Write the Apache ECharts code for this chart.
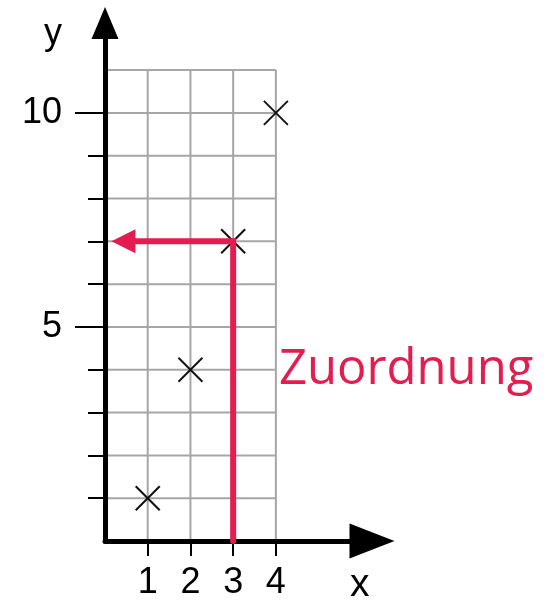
<!DOCTYPE html>
<html>
<head>
<meta charset="utf-8">
<script src="https://cdn.jsdelivr.net/npm/echarts@6/dist/echarts.min.js"></script>
<style>
  html, body { margin: 0; padding: 0; background: #fff; }
  #chart { width: 546px; height: 602px; }
</style>
</head>
<body>
<div id="chart"></div>
<script>
// data
const xValues = [1, 2, 3, 4];
const yValues = [1, 4, 7, 10];
const xTicks = [1, 2, 3, 4];
const yMinorTicks = [1, 2, 3, 4, 6, 7, 8, 9];
const yMajorTicks = [5, 10];
const gridX = [0, 1, 2, 3, 4];
const gridY = [1, 2, 3, 4, 5, 6, 7, 8, 9, 10, 11];
// Zuordnung: from x=3 up to the point, then over to the y axis
const mappingPath = [[3, 0], [3, 7], [0.15, 7]];

const RED = "#e31d50";
const FONT = "Liberation Sans, Arial, sans-serif";

var chartDom = document.getElementById("chart");
var myChart = echarts.init(chartDom);

// grid lines as line items [x1, y1, x2, y2]
let gridLines = [];
gridX.forEach((x) => gridLines.push([x, 0, x, 11]));
gridY.forEach((y) => gridLines.push([0, y, 4, y]));

let option = {
  animation: false,
  grid: {
    left: 105,
    right: 174,
    top: 23,
    bottom: 61,
    outerBoundsMode: "none",
  },
  xAxis: {
    type: "value",
    min: 0,
    max: 6.25,
    z: 3,
    axisLine: {
      lineStyle: { color: "#000", width: 5 },
      symbol: ["none", "triangle"],
      symbolSize: [35, 45],
    },
    splitLine: { show: false },
    axisTick: {
      customValues: xTicks,
      length: 15,
      lineStyle: { color: "#000", width: 2 },
    },
    axisLabel: {
      customValues: xTicks,
      fontSize: 36,
      color: "#000",
      margin: 24,
      fontFamily: FONT,
    },
  },
  yAxis: [
    {
      type: "value",
      min: 0,
      max: 12.1,
      z: 3,
      axisLine: {
        lineStyle: { color: "#000", width: 5 },
        symbol: ["none", "triangle"],
        symbolSize: [27, 32],
      },
      splitLine: { show: false },
      axisTick: {
        customValues: yMinorTicks,
        length: 17,
        lineStyle: { color: "#000", width: 2 },
      },
      axisLabel: { show: false },
    },
    {
      type: "value",
      min: 0,
      max: 12.1,
      position: "left",
      z: 3,
      axisLine: { show: false },
      splitLine: { show: false },
      axisTick: {
        show: true,
        customValues: yMajorTicks,
        length: 30,
        lineStyle: { color: "#000", width: 2 },
      },
      axisLabel: {
        customValues: yMajorTicks,
        fontSize: 36,
        color: "#000",
        margin: 43,
        fontFamily: FONT,
      },
    },
  ],
  graphic: [
    {
      type: "text",
      left: 44,
      top: 16,
      style: { text: "y", font: "36px " + FONT, fill: "#000" },
    },
    {
      type: "text",
      left: 350,
      top: 566,
      style: { text: "x", font: "39px " + FONT, fill: "#000" },
    },
    {
      type: "text",
      left: 279,
      top: 346,
      style: { text: "Zuordnung", font: "49px 'Open Sans', sans-serif", fill: RED },
    },
  ],
  series: [
    {
      // grey grid
      type: "custom",
      z: 1,
      encode: { x: [0, 2], y: [1, 3] },
      data: gridLines,
      renderItem: function (params, api) {
        let p1 = api.coord([api.value(0), api.value(1)]);
        let p2 = api.coord([api.value(2), api.value(3)]);
        return {
          type: "line",
          shape: { x1: p1[0], y1: p1[1], x2: p2[0], y2: p2[1] },
          style: { stroke: "#a6a6a6", lineWidth: 2 },
        };
      },
    },
    {
      // crosses
      type: "custom",
      z: 4,
      data: xValues.map((x, i) => [x, yValues[i]]),
      renderItem: function (params, api) {
        let c = api.coord([api.value(0), api.value(1)]);
        let r = 12;
        return {
          type: "group",
          children: [
            {
              type: "line",
              shape: { x1: c[0] - r, y1: c[1] - r, x2: c[0] + r, y2: c[1] + r },
              style: { stroke: "#111", lineWidth: 2 },
            },
            {
              type: "line",
              shape: { x1: c[0] - r, y1: c[1] + r, x2: c[0] + r, y2: c[1] - r },
              style: { stroke: "#111", lineWidth: 2 },
            },
          ],
        };
      },
    },
    {
      // red mapping arrow
      type: "custom",
      z: 5,
      data: mappingPath,
      renderItem: function (params, api) {
        if (params.dataIndex !== 0) return null;
        let pts = mappingPath.map((p) => api.coord(p));
        let tip = pts[pts.length - 1];
        let prev = pts[pts.length - 2];
        let dx = tip[0] - prev[0];
        let dy = tip[1] - prev[1];
        let len = Math.sqrt(dx * dx + dy * dy);
        let ux = dx / len;
        let uy = dy / len;
        let headLen = 24;
        let headW = 12;
        let base = [tip[0] - ux * headLen, tip[1] - uy * headLen];
        let linePts = pts.slice(0, -1).concat([[base[0] + ux * 2, base[1] + uy * 2]]);
        return {
          type: "group",
          children: [
            {
              type: "polyline",
              shape: { points: linePts },
              style: { stroke: RED, lineWidth: 6, fill: null, lineCap: "round", lineJoin: "miter" },
            },
            {
              type: "polygon",
              shape: {
                points: [
                  tip,
                  [base[0] - uy * headW, base[1] + ux * headW],
                  [base[0] + uy * headW, base[1] - ux * headW],
                ],
              },
              style: { fill: RED },
            },
          ],
        };
      },
    },
  ],
};

option && myChart.setOption(option);
</script>
</body>
</html>
